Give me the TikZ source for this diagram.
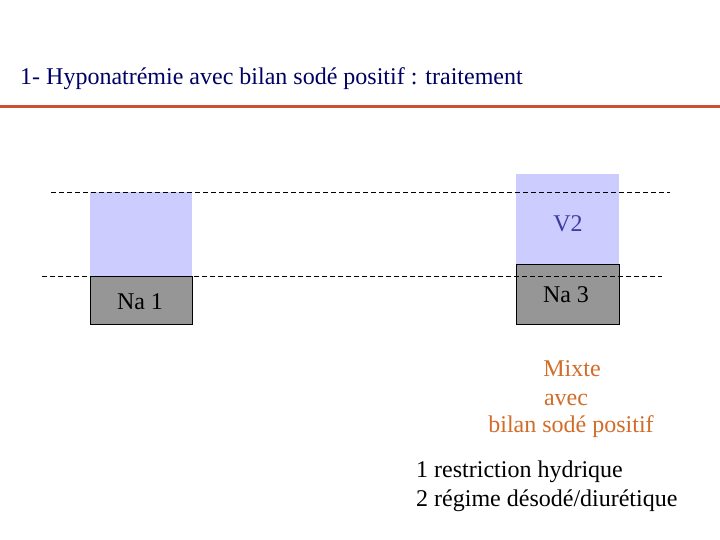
\documentclass[tikz,border=0pt]{standalone}
\usepackage{fontspec}
\setmainfont{Liberation Serif}
\definecolor{navy}{RGB}{0,0,102}
\definecolor{rule}{RGB}{204,82,46}
\definecolor{lblue}{RGB}{204,204,255}
\definecolor{mgray}{RGB}{150,150,150}
\definecolor{vtext}{RGB}{60,60,160}
\definecolor{otext}{RGB}{210,108,40}
\begin{document}
\begin{tikzpicture}[x=1pt,y=-1pt,
  txt/.style={inner sep=0pt,anchor=base,font=\fontsize{24}{28}\selectfont},
  water/.style={fill=lblue,draw=none},
  sodium/.style={fill=mgray,draw=black,line width=0.8pt},
  level/.style={draw=black,line width=0.8pt,dash pattern=on 5pt off 3pt}]
\useasboundingbox (0,0) rectangle (720,540);
\fill[white] (0,0) rectangle (720,540);
% title
\node[txt,anchor=base west,text=navy] (title) at (20,85) {1- Hyponatrémie avec bilan sodé positif : traitement};
\draw[rule,line width=3pt] (0,107) -- (720,107);
% left column
\path[water] (90,192) rectangle (192,276);
\node[sodium,minimum width=102pt,minimum height=48pt,inner sep=0pt,anchor=north west] (na1) at (90,276) {};
\node[txt] (na1t) at (140,309) {Na 1};
% right column
\path[water] (516,174) rectangle (619,264);
\node[txt,text=vtext] (v2) at (568,231) {V2};
\node[sodium,minimum width=103pt,minimum height=60pt,inner sep=0pt,anchor=north west] (na3) at (516,264) {};
\node[txt] (na3t) at (566,302) {Na 3};
% dashed levels
\draw[level] (51,192) -- (670,192);
\draw[level] (42,276) -- (662,276);
% orange text
\node[txt,text=otext] (mix1) at (572,376) {Mixte};
\node[txt,text=otext] (mix2) at (566,405) {avec};
\node[txt,text=otext] (mix3) at (571,432) {bilan sodé positif};
% black text
\node[txt,anchor=base west] (trt1) at (416,477) {1 restriction hydrique};
\node[txt,anchor=base west] (trt2) at (416,506) {2 régime désodé/diurétique};
\end{tikzpicture}
\end{document}
